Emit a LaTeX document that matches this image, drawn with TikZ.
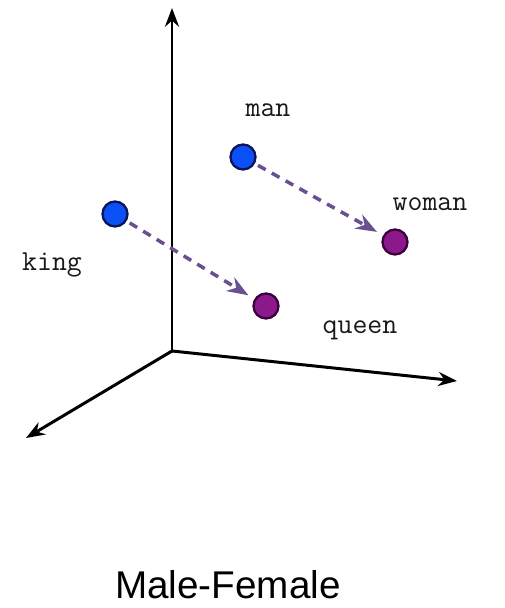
\documentclass[tikz,border=0pt]{standalone}
\usepackage{fontspec}
\setmainfont{Liberation Sans}
\usetikzlibrary{arrows.meta}
\definecolor{maleBlue}{RGB}{10, 80, 245}
\definecolor{maleEdge}{RGB}{10, 20, 90}
\definecolor{femPurple}{RGB}{140, 25, 140}
\definecolor{femEdge}{RGB}{60, 0, 60}
\definecolor{shiftArrow}{RGB}{105, 80, 145}

\tikzset{
  word/.style={font=\ttfamily\fontsize{16.5}{19}\selectfont, text=black!90},
  maledot/.style={circle, draw=maleEdge, line width=1.3pt, fill=maleBlue, minimum size=0.5cm, inner sep=0pt},
  femdot/.style={circle, draw=femEdge, line width=1.3pt, fill=femPurple, minimum size=0.5cm, inner sep=0pt},
  genderarrow/.style={->, shiftArrow, line width=2pt, dash pattern=on 5pt off 4pt, shorten <=2pt, shorten >=4pt}
}

\begin{document}
\begin{tikzpicture}[>=Stealth]
  \useasboundingbox (0, 0) rectangle (10.08, 12.16);

  % axes
  \coordinate (O) at (3.44, 5.14);
  \coordinate (ytip) at (3.44, 12.0);
  \coordinate (xtip) at (9.14, 4.54);
  \coordinate (ztip) at (0.52, 3.40);
  \draw[->, line width=1.7pt] (O) -- (ytip);
  \draw[->, line width=1.7pt] (O) -- (xtip);
  \draw[->, line width=1.7pt] (O) -- (ztip);

  % word vectors
  \node[maledot] (king) at (2.30, 7.88) {};
  \node[maledot] (man) at (4.86, 9.02) {};
  \node[femdot] (queen) at (5.32, 6.04) {};
  \node[femdot] (woman) at (7.90, 7.32) {};

  \node[word] (kinglbl) at (1.04, 6.86) {king};
  \node[word] (manlbl) at (5.36, 9.96) {man};
  \node[word] (womanlbl) at (8.60, 8.08) {woman};
  \node[word] (queenlbl) at (7.20, 5.56) {queen};

  \draw[genderarrow] (king) -- (queen);
  \draw[genderarrow] (man) -- (woman);

  \node[font=\fontsize{22}{26}\selectfont] (title) at (4.56, 0.46) {Male-Female};
\end{tikzpicture}
\end{document}
